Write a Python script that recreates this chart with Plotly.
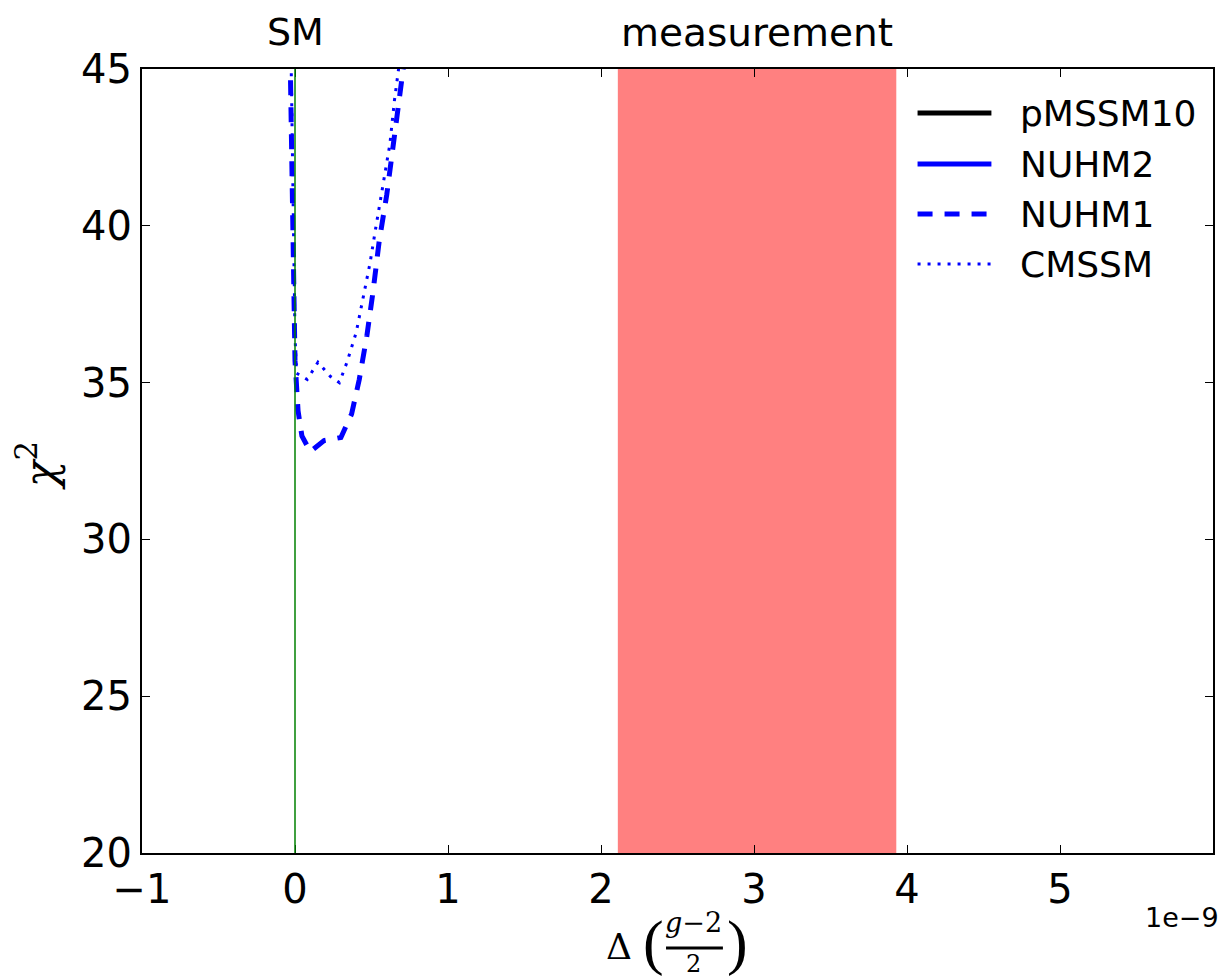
import plotly.graph_objects as go

# ---------------- data ----------------
x_range = [-1, 6]
y_range = [20, 45]
x_ticks = [-1, 0, 1, 2, 3, 4, 5]
x_ticklabels = ["\u22121", "0", "1", "2", "3", "4", "5"]
y_ticks = [20, 25, 30, 35, 40, 45]

sm_value = 0.0
meas_lo = 2.11
meas_hi = 3.93

pmssm10_x = []
pmssm10_y = []
nuhm2_x = []
nuhm2_y = []
nuhm1_x = [-0.032, -0.015, 0.0, 0.02, 0.045, 0.10, 0.19, 0.30, 0.37, 0.42, 0.47,
           0.51, 0.55, 0.60, 0.64, 0.68, 0.715]
nuhm1_y = [45.5, 40.0, 35.7, 34.1, 33.3, 32.8, 33.15, 33.25, 34.0, 35.1, 36.5,
           37.9, 39.5, 41.0, 42.4, 43.9, 45.3]
cmssm_x = [-0.026, -0.012, 0.0, 0.01, 0.08, 0.15, 0.23, 0.29, 0.34, 0.40, 0.44,
           0.49, 0.53, 0.57, 0.62, 0.65, 0.685]
cmssm_y = [45.5, 40.0, 36.5, 35.3, 35.1, 35.65, 35.2, 35.0, 35.65, 36.6, 37.6,
           38.8, 40.0, 41.2, 42.6, 44.0, 45.3]

series_names = ["pMSSM10", "NUHM2", "NUHM1", "CMSSM"]
series_x = [pmssm10_x, nuhm2_x, nuhm1_x, cmssm_x]
series_y = [pmssm10_y, nuhm2_y, nuhm1_y, cmssm_y]
series_color = ["black", "blue", "blue", "blue"]
series_width = [5, 5, 5, 3]
series_dash = ["solid", "solid", "15px,12px", "3px,7px"]

# ---------------- layout geometry ----------------
W, H = 1221, 978
L, R, T, B = 142, 6, 69, 125
PW, PH = W - L - R, H - T - B


def px(xpix):
    return (xpix - L) / PW


def py(ypix):
    return (H - B - ypix) / PH


fig = go.Figure()

for nm, xs, ys, c, w, d in zip(series_names, series_x, series_y,
                               series_color, series_width, series_dash):
    fig.add_trace(go.Scatter(x=xs, y=ys, mode="lines", name=nm, showlegend=False,
                             line=dict(color=c, width=w, dash=d)))

shapes = []
annotations = []

# measurement band
shapes.append(dict(type="rect", xref="x", yref="paper", x0=meas_lo, x1=meas_hi,
                   y0=0, y1=1, fillcolor="#ff8080", line=dict(width=0), layer="below"))
# SM line
shapes.append(dict(type="line", xref="x", yref="paper", x0=sm_value, x1=sm_value,
                   y0=0, y1=1, line=dict(color="green", width=1.5), layer="above"))

# top labels
annotations.append(dict(x=sm_value, xref="x", y=py(32), yref="paper", text="SM",
                        showarrow=False, font=dict(family="DejaVu Sans", size=38, color="black"),
                        xanchor="center", yanchor="middle"))
annotations.append(dict(x=(meas_lo + meas_hi) / 2, xref="x", y=py(32), yref="paper",
                        text="measurement", showarrow=False,
                        font=dict(family="DejaVu Sans", size=39, color="black"),
                        xanchor="center", yanchor="middle"))

# manual legend
leg_rows = [113, 164, 214, 264]
for nm, c, w, d, yy in zip(series_names, series_color, series_width, series_dash, leg_rows):
    shapes.append(dict(type="line", xref="paper", yref="paper", x0=px(919), x1=px(993),
                       y0=py(yy), y1=py(yy), line=dict(color=c, width=w, dash=d)))
    annotations.append(dict(x=px(1020), y=py(yy), xref="paper", yref="paper", text=nm,
                            showarrow=False, xanchor="left", yanchor="middle",
                            font=dict(family="DejaVu Sans", size=36, color="black")))

# offset text
annotations.append(dict(x=px(1184), y=py(917), xref="paper", yref="paper", text="1e\u22129",
                        showarrow=False, xanchor="center", yanchor="middle",
                        font=dict(family="DejaVu Sans", size=27, color="black")))

# y-axis title
annotations.append(dict(x=px(36), y=py(466), xref="paper", yref="paper",
                        text="<i>\u03c7</i><sup>2</sup>", textangle=-90, showarrow=False,
                        xanchor="center", yanchor="middle",
                        font=dict(family="DejaVu Serif", size=44, color="black")))

# x-axis title: Delta((g-2)/2)
serif = "DejaVu Serif"
annotations.append(dict(x=px(620), y=py(946), xref="paper", yref="paper", text="\u0394",
                        showarrow=False, xanchor="center", yanchor="middle",
                        font=dict(family=serif, size=36, color="black")))
annotations.append(dict(x=px(654), y=py(942), xref="paper", yref="paper", text="(",
                        showarrow=False, xanchor="center", yanchor="middle",
                        font=dict(family="Liberation Serif", size=62, color="black")))
annotations.append(dict(x=px(739), y=py(942), xref="paper", yref="paper", text=")",
                        showarrow=False, xanchor="center", yanchor="middle",
                        font=dict(family="Liberation Serif", size=62, color="black")))
annotations.append(dict(x=px(695), y=py(922), xref="paper", yref="paper", text="<i>g</i>\u22122",
                        showarrow=False, xanchor="center", yanchor="middle",
                        font=dict(family=serif, size=27, color="black")))
annotations.append(dict(x=px(695), y=py(964), xref="paper", yref="paper", text="2",
                        showarrow=False, xanchor="center", yanchor="middle",
                        font=dict(family=serif, size=24, color="black")))
shapes.append(dict(type="line", xref="paper", yref="paper", x0=px(667), x1=px(724),
                   y0=py(948), y1=py(948), line=dict(color="black", width=3)))

axis_common = dict(showline=True, linecolor="black", linewidth=2, mirror="allticks",
                   ticks="inside", ticklen=8, tickwidth=1, tickcolor="black",
                   showgrid=False, zeroline=False,
                   tickfont=dict(family="DejaVu Sans", size=40, color="black"))

fig.update_layout(
    width=W, height=H,
    margin=dict(l=L, r=R, t=T, b=B),
    paper_bgcolor="white", plot_bgcolor="white",
    showlegend=False,
    xaxis=dict(range=x_range, tickvals=x_ticks, ticktext=x_ticklabels, **axis_common),
    yaxis=dict(range=y_range, tickvals=y_ticks, **axis_common),
    shapes=shapes,
    annotations=annotations,
)

fig.write_html("out.html")
